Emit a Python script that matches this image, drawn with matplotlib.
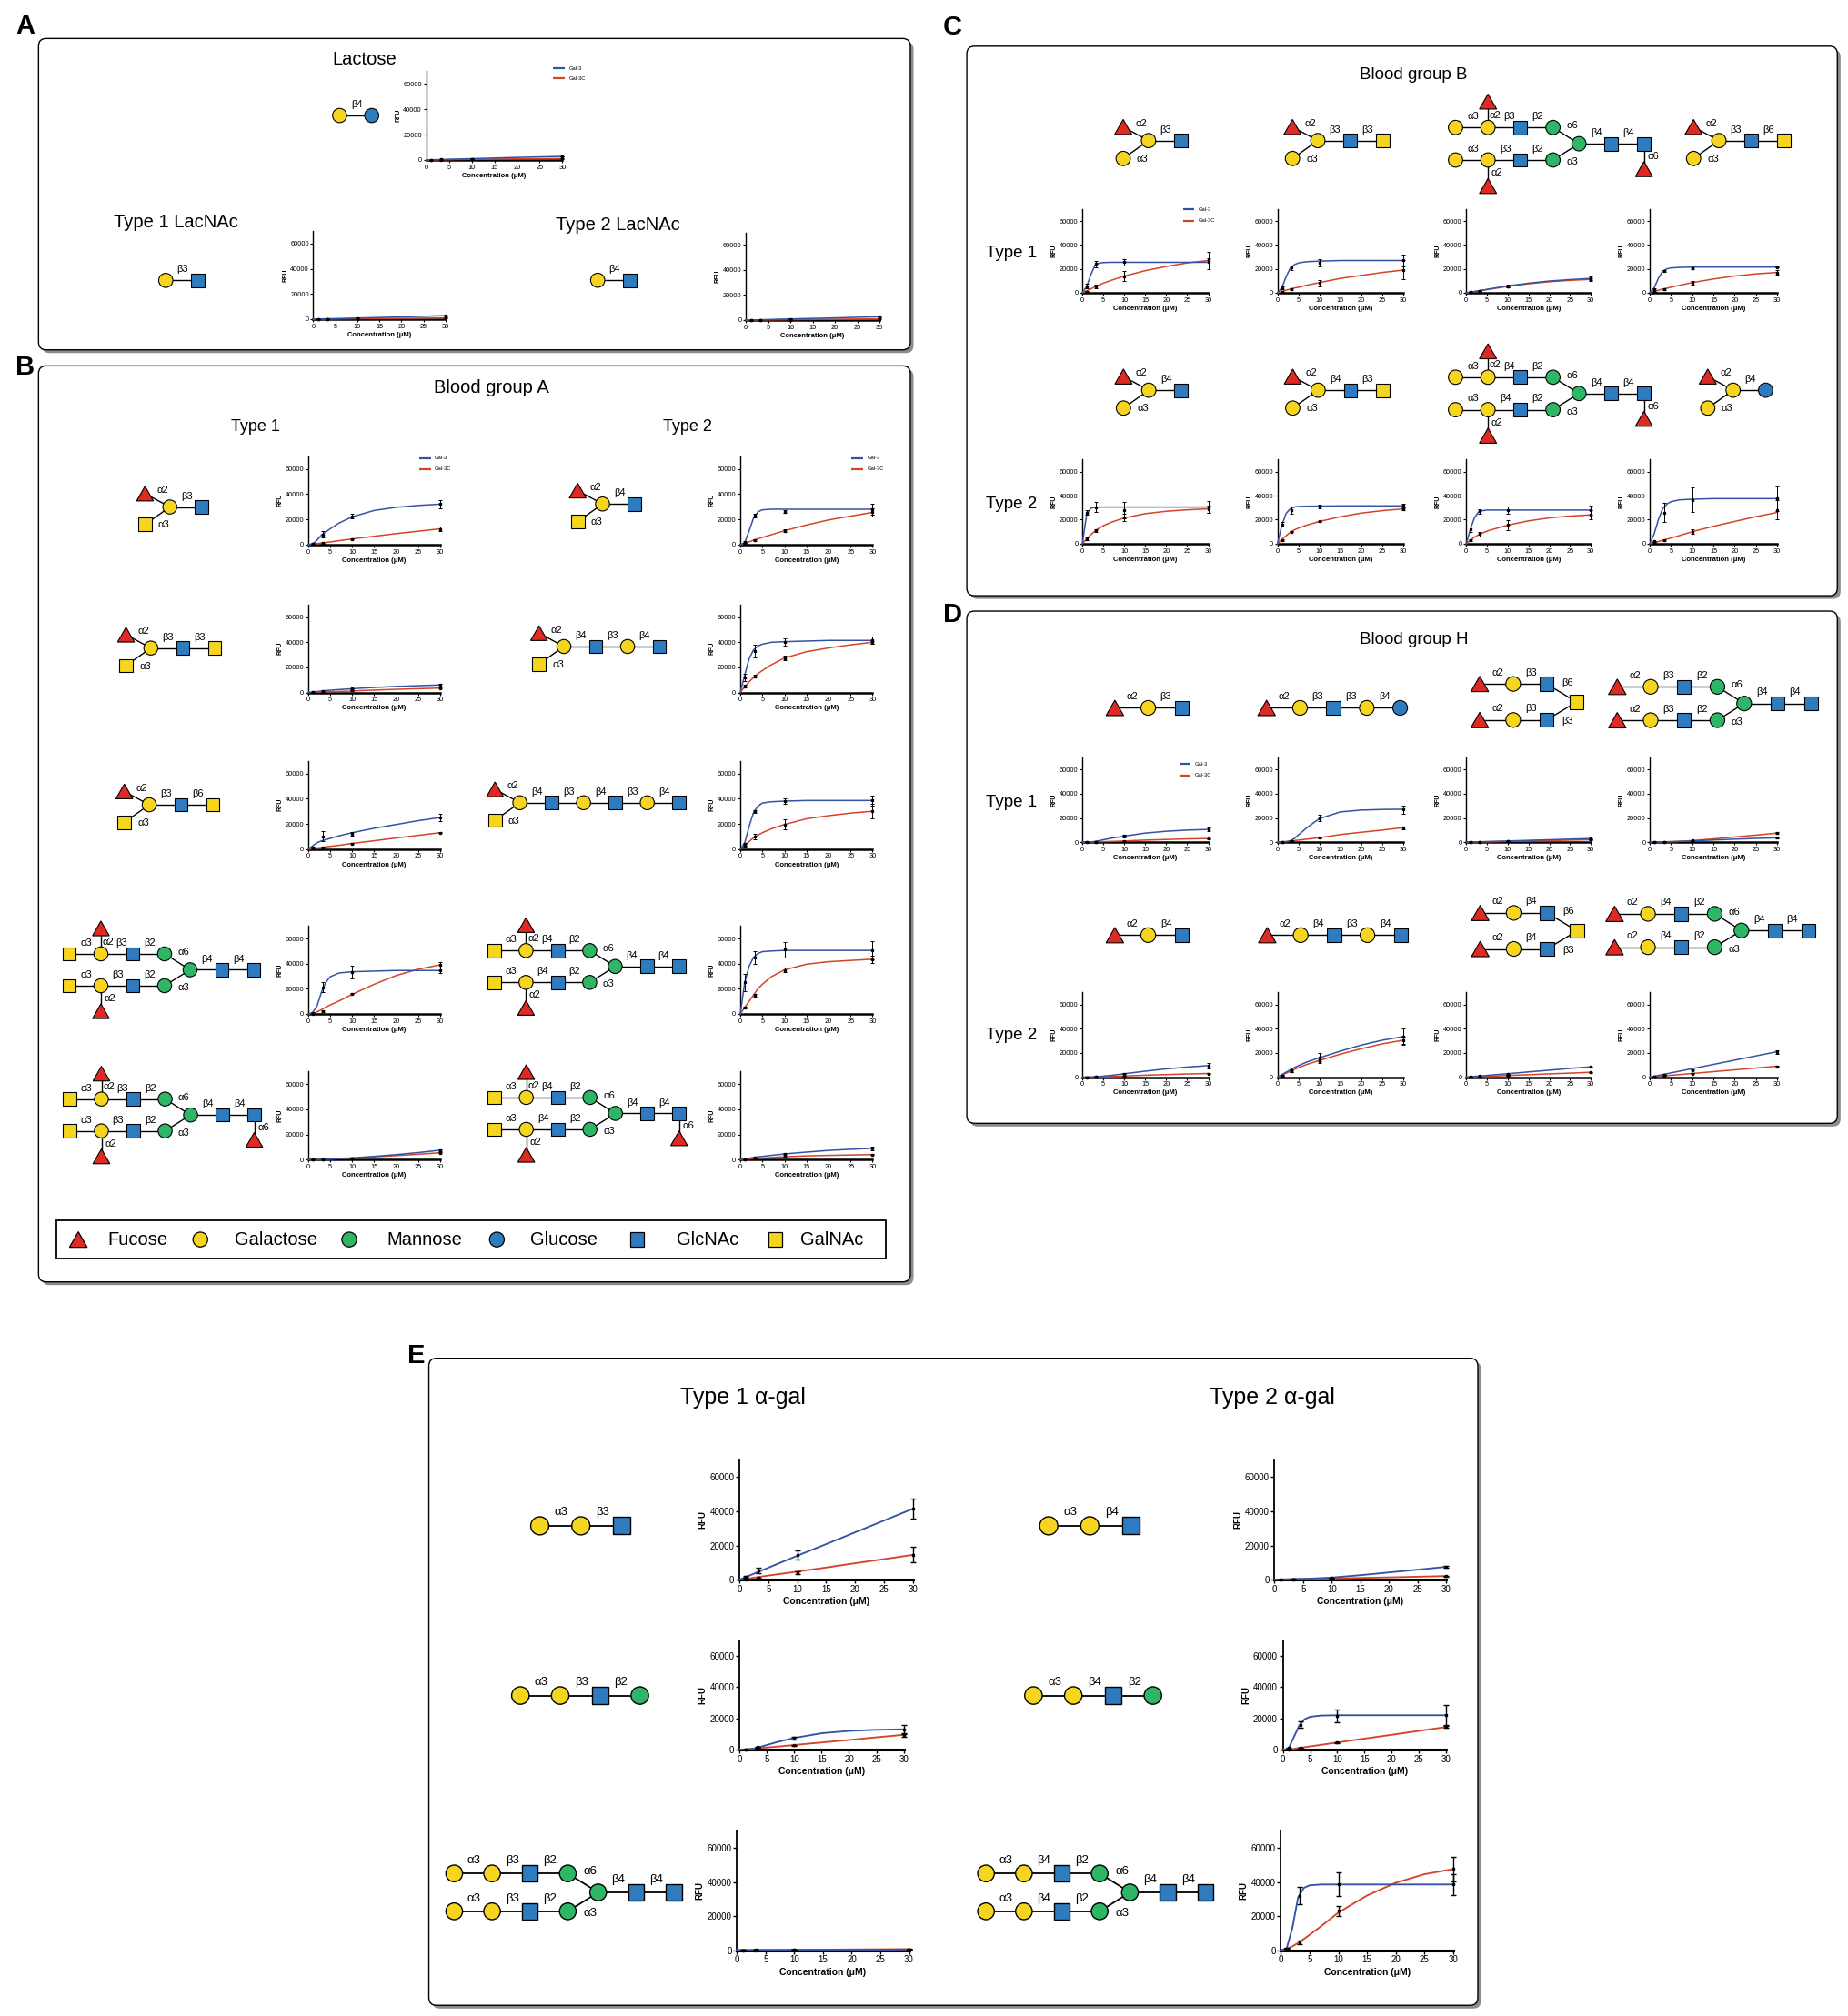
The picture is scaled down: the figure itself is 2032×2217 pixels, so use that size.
import numpy as np
import matplotlib
matplotlib.use("Agg")
import matplotlib.pyplot as plt
from matplotlib.patches import Circle, Rectangle, Polygon, FancyBboxPatch

plt.rcParams['font.family'] = ['Liberation Sans', 'DejaVu Sans']

# ------------------------------------------------------------------
# DATA  (RFU values in thousands)
# ------------------------------------------------------------------
CONC_FIT = [0, 1, 2, 3, 4, 5, 7, 10, 15, 20, 25, 30]   # fitted-curve read-out concentrations (uM)
CONC_PTS = [1.1, 3.3, 10, 30]                           # measured concentrations (uM)
SERIES = ['Gal-3', 'Gal-3C']
X_TICKS = [0, 5, 10, 15, 20, 25, 30]
Y_TICKS = [0, 20000, 40000, 60000]
LEGEND_GLYCO = ['Fucose', 'Galactose', 'Mannose', 'Glucose', 'GlcNAc', 'GalNAc']

# Panel A: Lactose, Type 1 LacNAc, Type 2 LacNAc
A_GAL3_FIT = [
    [0, 0.1, 0.2, 0.3, 0.4, 0.5, 0.7, 1.0, 1.5, 2.0, 2.4, 2.8],
    [0, 0.1, 0.2, 0.3, 0.4, 0.45, 0.6, 0.9, 1.3, 1.8, 2.3, 2.8],
    [0, 0.05, 0.1, 0.2, 0.3, 0.4, 0.6, 0.9, 1.3, 1.7, 2.2, 2.6],
]
A_GAL3C_FIT = [
    [0, 0.05, 0.1, 0.15, 0.2, 0.25, 0.35, 0.5, 0.7, 0.9, 1.0, 1.2],
    [0, 0.03, 0.06, 0.1, 0.13, 0.16, 0.23, 0.33, 0.5, 0.67, 0.83, 1.0],
    [0, 0.03, 0.06, 0.1, 0.13, 0.16, 0.23, 0.33, 0.5, 0.65, 0.8, 0.9],
]
A_GAL3_MEAN = [[0.1, 0.3, 1.0, 2.8], [0.1, 0.3, 0.9, 2.8], [0.05, 0.2, 0.9, 2.6]]
A_GAL3_SD = [[0.05, 0.1, 0.2, 0.3], [0.05, 0.1, 0.2, 0.3], [0.05, 0.1, 0.2, 0.3]]
A_GAL3C_MEAN = [[0.05, 0.15, 0.5, 1.2], [0.03, 0.1, 0.33, 1.0], [0.03, 0.1, 0.33, 0.9]]
A_GAL3C_SD = [[0.05, 0.05, 0.1, 0.2], [0.05, 0.05, 0.1, 0.2], [0.05, 0.05, 0.1, 0.2]]

# Panel B: Blood group A (row-major: Type 1, Type 2)
B_GAL3_FIT = [
    [0, 0.3, 3.5, 7.5, 10, 12.5, 17, 22, 27, 29.5, 31, 32],
    [0, 1.5, 11, 21, 26, 27.5, 28, 28, 28, 28, 28, 28],
    [0, 0.3, 0.7, 1.1, 1.5, 1.8, 2.3, 3.0, 4.0, 4.8, 5.4, 6.0],
    [0, 14, 27, 34, 37, 38.5, 40, 40.5, 41, 41.5, 41.5, 41.5],
    [0, 2.5, 5, 6.5, 7.5, 8.5, 10.5, 13, 16.5, 19.5, 22.5, 25],
    [0, 5, 18, 29, 34, 36.5, 37.5, 38, 38.5, 38.5, 38.5, 38.5],
    [0, 1, 6, 17, 25, 29.5, 32.5, 33.5, 34, 34.5, 34.5, 34.5],
    [0, 25, 38, 45, 48, 49.5, 50, 50.5, 50.5, 50.5, 50.5, 50.5],
    [0, 0, 0.1, 0.3, 0.4, 0.6, 0.9, 1.4, 2.6, 4.0, 5.6, 7.5],
    [0, 0.6, 1.2, 1.7, 2.2, 2.6, 3.4, 4.5, 6.0, 7.3, 8.2, 9.0],
]
B_GAL3C_FIT = [
    [0, 0.4, 0.8, 1.3, 1.7, 2.1, 3.1, 4.5, 6.6, 8.7, 10.6, 12.5],
    [0, 1, 2.2, 3.5, 4.6, 5.7, 7.8, 11, 15.5, 19.5, 22.5, 25.5],
    [0, 0.1, 0.2, 0.35, 0.5, 0.6, 0.8, 1.2, 1.9, 2.5, 3.0, 3.5],
    [0, 4.5, 8.5, 12, 15, 17.5, 22, 27.5, 32.5, 35.5, 38, 40],
    [0, 0.4, 0.9, 1.3, 1.7, 2.2, 3.0, 4.5, 6.6, 8.8, 10.9, 13],
    [0, 3, 6, 9, 11, 13, 16, 19.5, 24, 26.5, 28.5, 30],
    [0, 0.3, 1.5, 3.3, 5.2, 7, 10.2, 15.5, 23.5, 30.5, 35.5, 39],
    [0, 5, 10, 15, 20, 23.5, 29.5, 35, 39.5, 41.5, 42.5, 43.5],
    [0, 0.1, 0.2, 0.3, 0.4, 0.5, 0.8, 1.2, 2.2, 3.2, 4.3, 5.5],
    [0, 0.3, 0.6, 0.9, 1.1, 1.3, 1.7, 2.3, 3.0, 3.4, 3.7, 4.0],
]
B_GAL3_MEAN = [[0.5, 8, 22.5, 32], [2, 23, 26, 28], [0.3, 1, 3, 6], [12, 33, 40.5, 41.5],
               [1.5, 10, 12, 25], [4, 30, 38, 38.5], [0.5, 21, 33, 34.5], [25, 45, 51, 50.5],
               [0, 0.2, 1, 7.5], [0.3, 1.5, 4.5, 9]]
B_GAL3_SD = [[0.5, 2.5, 2, 3], [0.5, 1.5, 1, 4], [0.2, 0.5, 0.5, 1], [3, 5, 3, 3],
             [0.5, 4, 1.5, 3], [1, 1, 2, 4], [0.3, 4, 5, 2], [7, 5, 6, 7],
             [0.1, 0.2, 0.5, 1], [0.2, 0.3, 0.7, 1.5]]
B_GAL3C_MEAN = [[0.3, 1, 4.5, 12.5], [1, 3.5, 11, 25.5], [0.1, 0.5, 1.5, 3.5], [5, 13, 27.5, 40],
                [0.3, 1.5, 4.5, 13], [3, 10, 19.5, 30], [0.2, 2, 16, 39], [5, 15, 35, 43.5],
                [0, 0.3, 1.2, 5.5], [0.2, 0.8, 2.3, 4]]
B_GAL3C_SD = [[0.2, 0.3, 0.5, 1.5], [0.3, 0.5, 1, 3], [0.1, 0.2, 0.3, 0.5], [1, 1, 2, 1],
              [0.2, 0.3, 0.5, 0.5], [1, 2, 4, 6], [0.2, 0.5, 0.5, 2], [1, 1, 2, 3],
              [0.1, 0.1, 0.3, 0.5], [0.1, 0.2, 0.3, 0.5]]

# Panel C: Blood group B (Type 1 row cols 1-4, then Type 2 row cols 1-4)
C_GAL3_FIT = [
    [0, 5, 15, 23, 24.8, 25.3, 25.5, 25.5, 25.5, 25.5, 25.5, 25.5],
    [0, 4, 13, 20.5, 23.5, 25, 26, 26.5, 27, 27, 27, 27],
    [0, 0.5, 1, 1.6, 2.2, 2.8, 4, 5.7, 8, 9.8, 11, 12],
    [0, 4, 12, 18, 20, 20.8, 21.2, 21.5, 21.5, 21.5, 21.5, 21.5],
    [0, 24, 29.5, 30.3, 30.5, 30.5, 30.5, 30.5, 30.5, 30.5, 30.5, 30.5],
    [0, 15, 25, 29, 30.5, 31, 31.2, 31.3, 31.5, 31.5, 31.5, 31.5],
    [0, 12, 22, 26.5, 27.5, 28, 28, 28, 28, 28, 28, 28],
    [0, 8, 20, 29, 33, 35, 36.5, 37, 37.5, 37.5, 37.5, 37.5],
]
C_GAL3C_FIT = [
    [0, 1.6, 3.1, 5, 6.5, 8, 10.5, 14, 18.5, 22, 25, 27],
    [0, 1, 2, 3, 4, 4.5, 6.3, 8.5, 12, 14.5, 17, 19],
    [0, 0.5, 1, 1.5, 2.1, 2.6, 3.7, 5.3, 7.5, 9.2, 10.4, 11.2],
    [0, 1, 2, 3, 3.8, 4.6, 6.2, 8.5, 11.5, 14, 15.8, 17],
    [0, 4, 7.5, 10.5, 13, 15, 18, 21.5, 25, 27, 28.2, 29],
    [0, 3.5, 6.5, 9.5, 11.5, 13, 15.5, 18.5, 22.5, 25.5, 27.5, 29],
    [0, 3, 5.5, 7.5, 9, 10.5, 12.5, 15.5, 19, 21.5, 23, 24],
    [0, 0.8, 1.8, 2.8, 3.8, 4.8, 6.8, 10, 14.5, 18.5, 22.5, 26],
]
C_GAL3_MEAN = [[5.5, 24, 25.5, 26], [4, 21, 25, 27], [0.5, 1.5, 5.5, 12], [3, 18.5, 20.5, 21.5],
               [26, 30.5, 28, 30.5], [16, 28, 31, 31.5], [12, 27, 28, 28], [2, 26, 36.5, 37.5]]
C_GAL3_SD = [[2, 2.5, 2.5, 3], [1, 2, 3, 5], [0.2, 0.3, 1, 1.5], [0.5, 0.8, 0.8, 0.5],
             [2, 4, 7, 5], [2, 3, 1.5, 2], [2, 2, 3, 4], [0.5, 8, 10, 10]]
C_GAL3C_MEAN = [[1, 5, 14, 27], [0.5, 3, 8, 19], [0.4, 1.5, 5, 11], [0.5, 3, 8.5, 17],
                [4, 11, 22, 29], [3, 10, 18.5, 29], [3, 8, 15.5, 24], [0.5, 3, 10, 28]]
C_GAL3C_SD = [[0.5, 1.5, 4, 7], [0.3, 1, 2.5, 8], [0.2, 0.3, 0.8, 1.5], [0.2, 0.5, 1.5, 2],
              [1, 1, 3, 3], [0.5, 0.5, 0.5, 1], [0.5, 2, 4, 4], [0.2, 0.5, 2, 8]]

# Panel D: Blood group H (Type 1 row cols 1-4, then Type 2 row cols 1-4)
D_GAL3_FIT = [
    [0, 0, 0.2, 0.6, 1.2, 2, 3.3, 5, 7.5, 9, 10, 10.5],
    [0, 0, 0.3, 1, 3, 6, 12, 19.5, 25, 26.5, 27, 27.2],
    [0, 0.1, 0.2, 0.3, 0.4, 0.5, 0.7, 1, 1.5, 2, 2.5, 3],
    [0, 0, 0.1, 0.2, 0.3, 0.4, 0.6, 1, 1.8, 2.5, 3.1, 3.6],
    [0, 0, 0.1, 0.3, 0.5, 0.8, 1.5, 2.8, 4.9, 6.8, 8.3, 9.5],
    [0, 2, 4, 6, 7.8, 9.5, 12.5, 16, 21.5, 26.5, 30.5, 33.5],
    [0, 0.3, 0.6, 0.9, 1.1, 1.4, 2, 2.8, 4.3, 5.7, 7.2, 8.5],
    [0, 0.7, 1.4, 2.1, 2.8, 3.5, 4.9, 7, 10.5, 14, 17.5, 21],
]
D_GAL3C_FIT = [
    [0, 0.05, 0.1, 0.2, 0.3, 0.4, 0.6, 1, 1.7, 2.2, 2.7, 3],
    [0, 0.2, 0.5, 1, 1.3, 1.7, 2.5, 3.7, 6.3, 8.2, 10, 12],
    [0, 0.05, 0.1, 0.15, 0.2, 0.3, 0.4, 0.6, 1, 1.3, 1.7, 2],
    [0, 0, 0.1, 0.2, 0.3, 0.4, 0.7, 1.3, 2.7, 4.3, 5.8, 7.5],
    [0, 0, 0.05, 0.1, 0.15, 0.25, 0.5, 0.9, 1.6, 2.1, 2.6, 3],
    [0, 1.6, 3.2, 4.8, 6.4, 7.8, 10.5, 13.8, 19, 23.5, 27.5, 30.5],
    [0, 0.1, 0.3, 0.4, 0.5, 0.7, 0.9, 1.3, 2, 2.7, 3.3, 4],
    [0, 0.3, 0.6, 0.9, 1.2, 1.5, 2.1, 3, 4.5, 6, 7.5, 9],
]
D_GAL3_MEAN = [[0, 0.3, 5, 10.5], [0, 1, 20, 27], [0.1, 0.3, 1, 3], [0, 0.2, 1, 3.6],
               [0, 0.3, 3, 9.5], [1, 6, 16.5, 33.5], [0.3, 1, 2.5, 8.5], [0.5, 2, 6, 21]]
D_GAL3_SD = [[0.1, 0.2, 1, 1.5], [0.1, 0.3, 2.5, 3.5], [0.1, 0.1, 0.2, 0.3], [0.1, 0.1, 0.2, 0.3],
             [0.1, 0.2, 0.5, 2], [0.5, 2, 3.5, 7], [0.1, 0.3, 0.5, 0.5], [0.2, 0.3, 0.5, 1.5]]
D_GAL3C_MEAN = [[0, 0.2, 1, 3], [0.1, 1, 3.5, 12], [0, 0.2, 0.6, 2], [0, 0.2, 1.3, 7.5],
                [0, 0.2, 0.9, 3], [1.5, 5, 13.5, 30.5], [0.1, 0.4, 1.3, 4], [0.3, 1, 3, 9]]
D_GAL3C_SD = [[0.1, 0.1, 0.2, 0.3], [0.1, 0.3, 0.3, 1], [0.1, 0.1, 0.1, 0.2], [0.1, 0.1, 0.2, 0.5],
              [0.1, 0.1, 0.2, 0.3], [0.5, 1, 1.5, 3], [0.1, 0.1, 0.2, 0.3], [0.1, 0.2, 0.3, 0.5]]

# Panel E: alpha-gal (row-major: Type 1, Type 2)
E_GAL3_FIT = [
    [0, 1.4, 2.8, 4.2, 5.6, 7, 9.8, 14, 20.8, 27.7, 34.6, 41.5],
    [0, 0.1, 0.2, 0.3, 0.4, 0.5, 0.7, 1.2, 2.6, 4.2, 5.8, 7.5],
    [0, 0.1, 0.4, 1, 2, 3, 5, 7.5, 10.5, 12, 12.7, 13],
    [0, 0.5, 8, 15.5, 19.5, 21, 21.8, 22, 22, 22, 22, 22],
    [0, 0, 0.05, 0.1, 0.1, 0.1, 0.1, 0.15, 0.2, 0.2, 0.25, 0.3],
    [0, 1, 13, 31, 36.5, 38, 38.5, 38.5, 38.5, 38.5, 38.5, 38.5],
]
E_GAL3C_FIT = [
    [0, 0.45, 0.9, 1.4, 1.9, 2.4, 3.3, 4.7, 7.1, 9.6, 12, 14.5],
    [0, 0.05, 0.1, 0.15, 0.2, 0.3, 0.4, 0.6, 1, 1.3, 1.7, 2.1],
    [0, 0.2, 0.5, 0.8, 1.1, 1.4, 2, 3, 4.6, 6.2, 7.9, 9.5],
    [0, 0.1, 0.6, 1.1, 1.6, 2.1, 3.1, 4.6, 7.1, 9.5, 12, 14.5],
    [0, 0.02, 0.04, 0.06, 0.08, 0.1, 0.14, 0.2, 0.3, 0.4, 0.5, 0.6],
    [0, 0.7, 2.2, 4.2, 6.5, 9, 14, 22, 32, 39.5, 44.5, 47.5],
]
E_GAL3_MEAN = [[1.5, 5.5, 14.5, 41.5], [0.1, 0.3, 1, 7.5], [0.2, 1.8, 7.5, 13],
               [1, 16, 21.5, 22], [0, 0, 0.1, 0.2], [1, 32, 38.5, 38.5]]
E_GAL3_SD = [[0.5, 1.5, 2.5, 6], [0.1, 0.1, 0.2, 0.5], [0.1, 0.3, 1, 3],
             [0.3, 2, 4, 6.5], [0.05, 0.05, 0.05, 0.1], [0.3, 5, 7, 6]]
E_GAL3C_MEAN = [[0.3, 1, 4, 14.5], [0, 0.1, 0.5, 2], [0.2, 0.8, 2.8, 9.5],
                [0.2, 1.2, 4.6, 14.5], [0, 0.1, 0.2, 0.5], [0.5, 4.5, 23, 47.5]]
E_GAL3C_SD = [[0.2, 0.3, 1, 4.5], [0.05, 0.05, 0.1, 0.2], [0.1, 0.2, 0.3, 1],
              [0.1, 0.2, 0.3, 0.5], [0.05, 0.05, 0.05, 0.1], [0.2, 1, 3, 7]]

# ------------------------------------------------------------------
# FIGURE SETUP (layout in a 1440-wide reference frame)
# ------------------------------------------------------------------
W, H = 2033, 2217
S = W / 1440.0
HD = H / S
fig = plt.figure(figsize=(W / 100, H / 100), dpi=100)
base = fig.add_axes([0, 0, 1, 1])
base.set_xlim(0, 1440)
base.set_ylim(HD, 0)
base.axis('off')

BLUE = '#3553A5'
RED = '#D5442A'
SYM_COL = {'Fuc': '#DF2A24', 'Gal': '#F6D520', 'Man': '#2FB566', 'Glc': '#2E7CBF',
           'GlcNAc': '#2E7CBF', 'GalNAc': '#F6D520'}


def to_fig(x0, yt, x1, yb):
    return [x0 * S / W, 1 - yb * S / H, (x1 - x0) * S / W, (yb - yt) * S / H]


def panel_box(x0, y0, x1, y1):
    sh = FancyBboxPatch((x0 + 2.5, y0 + 2.5), x1 - x0, y1 - y0,
                        boxstyle='round,pad=0,rounding_size=6', fc='#8c8c8c', ec='none', zorder=0)
    base.add_patch(sh)
    bx = FancyBboxPatch((x0, y0), x1 - x0, y1 - y0,
                        boxstyle='round,pad=0,rounding_size=6', fc='white', ec='black', lw=1.0, zorder=0.5)
    base.add_patch(bx)


def draw_sym(s, x, y, d, lw=0.8, z=4):
    c = SYM_COL[s]
    if s in ('Gal', 'Man', 'Glc'):
        p = Circle((x, y), d * 0.5, fc=c, ec='black', lw=lw, zorder=z)
    elif s in ('GlcNAc', 'GalNAc'):
        q = d * 0.95
        p = Rectangle((x - q / 2, y - q / 2), q, q, fc=c, ec='black', lw=lw, zorder=z)
    else:
        w, h = d * 1.2, d * 1.05
        p = Polygon([(x - w / 2, y + h / 2), (x + w / 2, y + h / 2), (x, y - h / 2)],
                    closed=True, fc=c, ec='black', lw=lw, zorder=z)
    base.add_patch(p)


# ---- glycan builders (structure only) ----
def g_linear(seq, links):
    nodes = [(s, float(i), 0.0) for i, s in enumerate(seq)]
    edges = [(i, i + 1, l) for i, l in enumerate(links)]
    return nodes, edges


def g_abh(term, chain, links):
    nodes = [('Gal', 0.0, 0.0), ('Fuc', -0.78, -0.42), (term, -0.78, 0.55)]
    edges = [(0, 1, 'α2'), (0, 2, 'α3')]
    prev = 0
    for k, (s, l) in enumerate(zip(chain, links)):
        nodes.append((s, float(k + 1), 0.0))
        edges.append((prev, len(nodes) - 1, l))
        prev = len(nodes) - 1
    return nodes, edges


def g_biant(branch, links, fuc_on=None, fuc6=False, sep=1.0):
    nodes, edges, ends = [], [], []
    n = len(branch)
    for row, y in enumerate((0.0, sep)):
        b0 = len(nodes)
        for i, s in enumerate(branch):
            nodes.append((s, float(i), y))
            if i:
                edges.append((b0 + i - 1, b0 + i, links[i - 1]))
        ends.append(b0 + n - 1)
        if fuc_on is not None:
            nodes.append(('Fuc', float(fuc_on), -0.8 if row == 0 else sep + 0.8))
            edges.append((b0 + fuc_on, len(nodes) - 1, 'α2'))
    cx = n - 1 + 0.8
    nodes.append(('Man', cx, sep / 2))
    core = len(nodes) - 1
    edges.append((ends[0], core, 'α6'))
    edges.append((ends[1], core, 'α3'))
    nodes.append(('GlcNAc', cx + 1, sep / 2))
    edges.append((core, len(nodes) - 1, 'β4'))
    nodes.append(('GlcNAc', cx + 2, sep / 2))
    edges.append((len(nodes) - 2, len(nodes) - 1, 'β4'))
    if fuc6:
        last = len(nodes) - 1
        nodes.append(('Fuc', cx + 2, sep / 2 + 0.78))
        edges.append((last, len(nodes) - 1, 'α6'))
    return nodes, edges


def g_hdi(link):
    nodes = [('Fuc', 0.0, 0.0), ('Gal', 1.0, 0.0), ('GlcNAc', 2.0, 0.0),
             ('Fuc', 0.0, 1.08), ('Gal', 1.0, 1.08), ('GlcNAc', 2.0, 1.08), ('GalNAc', 2.9, 0.54)]
    edges = [(0, 1, 'α2'), (1, 2, link), (3, 4, 'α2'), (4, 5, link), (2, 6, 'β6'), (5, 6, 'β3')]
    return nodes, edges


def draw_glycan(spec, cx, cy, u, fs, lw=1.0):
    nodes, edges = spec
    xs = [n[1] for n in nodes]
    ys = [n[2] for n in nodes]
    ox = cx - (min(xs) + max(xs)) / 2 * u
    oy = cy - (min(ys) + max(ys)) / 2 * u
    P = [(ox + n[1] * u, oy + n[2] * u) for n in nodes]
    # nodes carrying a substituent drawn straight above them
    up_sub = set()
    for i, j, _ in edges:
        if abs(nodes[i][1] - nodes[j][1]) < 1e-9 and nodes[j][2] < nodes[i][2]:
            up_sub.add(i)
    for i, j, lab in edges:
        (x1, y1), (x2, y2) = P[i], P[j]
        base.plot([x1, x2], [y1, y2], color='black', lw=lw, zorder=3, solid_capstyle='butt')
        a, b = nodes[i][1:], nodes[j][1:]
        dx, dy = b[0] - a[0], b[1] - a[1]
        mx, my = (x1 + x2) / 2, (y1 + y2) / 2
        if abs(dy) < 1e-9:
            left = i if a[0] < b[0] else j
            shift = 0.16 * u if left in up_sub else 0.03 * u
            base.text(mx + shift, my - 0.34 * u, lab, ha='center', va='center', fontsize=fs, zorder=5)
        elif abs(dx) < 1e-9:
            if dy < 0:
                base.text(mx + 0.05 * u, my + 0.02 * u, lab, ha='left', va='center', fontsize=fs, zorder=5)
            else:
                base.text(mx + 0.1 * u, my, lab, ha='left', va='center', fontsize=fs, zorder=5)
        else:
            L, R = (a, b) if a[0] < b[0] else (b, a)
            up = L[1] < R[1]
            nv = np.array([abs(dy), -abs(dx) if up else abs(dx)])
            nv = nv / np.hypot(*nv)
            base.text(mx + 0.36 * u * nv[0], my + 0.36 * u * nv[1], lab, ha='center', va='center',
                      fontsize=fs, zorder=5)
    for (s, _, _), (x, y) in zip(nodes, P):
        draw_sym(s, x, y, 0.44 * u, lw=0.8 if u < 28 else 1.0)


def make_plot(rect, fb, fr, mb, sb, mr, sr, big=False, legend_at=None):
    ax = fig.add_axes(to_fig(*rect))
    ax.patch.set_alpha(0)
    lw = 1.35 if big else 1.1
    ax.plot(CONC_FIT, np.array(fr) * 1000, color=RED, lw=lw, zorder=3, clip_on=False)
    ax.plot(CONC_FIT, np.array(fb) * 1000, color=BLUE, lw=lw, zorder=4, clip_on=False)
    ekw = dict(fmt='s', color='black', ms=2.0 if big else 1.4,
               elinewidth=1.0 if big else 0.7, capsize=2.2 if big else 1.4,
               capthick=1.0 if big else 0.7, zorder=5)
    for m, e in ((mr, sr), (mb, sb)):
        cont = ax.errorbar(CONC_PTS, np.array(m) * 1000, yerr=np.array(e) * 1000, **ekw)
        for art in cont.get_children():
            art.set_clip_on(False)
    ax.set_xlim(0, 30)
    ax.set_ylim(0, 70000)
    ax.set_xticks(X_TICKS)
    ax.set_yticks(Y_TICKS)
    for sp in ('top', 'right'):
        ax.spines[sp].set_visible(False)
    ax.spines['left'].set_linewidth(1.3 if big else 1.0)
    ax.spines['bottom'].set_linewidth(2.2 if big else 1.8)
    tfs = 7 if big else 5.3
    ax.tick_params(direction='out', length=3 if big else 2.2, width=1.0 if big else 0.8,
                   labelsize=tfs, pad=1.2)
    ax.set_xlabel('Concentration (μM)', fontsize=7.5 if big else 5.5, fontweight='bold',
                  labelpad=2.5 if big else 1.5)
    ax.set_ylabel('RFU', fontsize=7 if big else 5, fontweight='bold', labelpad=2 if big else 1.5)
    if legend_at is not None:
        lx, ly, ddy = legend_at
        for k, (lab, c) in enumerate(zip(SERIES, (BLUE, RED))):
            yy = ly - k * ddy
            ax.plot([lx, lx + 0.09], [yy, yy], transform=ax.transAxes, color=c, lw=1.6,
                    clip_on=False, solid_capstyle='butt')
            ax.text(lx + 0.12, yy, lab, transform=ax.transAxes, fontsize=4.2, va='center', ha='left')
    return ax


def label(txt, x, y, fs, bold=False):
    base.text(x, y, txt, ha='center', va='center', fontsize=fs,
              fontweight='bold' if bold else 'normal', zorder=6)


# ------------------------------------------------------------------
# PANEL BOXES AND LETTERS
# ------------------------------------------------------------------
panel_box(30, 30, 709, 272.5)
panel_box(30, 285, 709, 998.5)
panel_box(753, 36, 1431, 464)
panel_box(753, 476, 1431, 875)
panel_box(334, 1058, 1151, 1562)
label('A', 19.5, 20.5, 21, True)
label('B', 19.5, 286, 21, True)
label('C', 742, 21, 21, True)
label('D', 742, 479, 21, True)
label('E', 324, 1056, 21, True)

# ------------------------------------------------------------------
# PANEL A
# ------------------------------------------------------------------
label('Lactose', 284, 46.5, 14.5)
label('Type 1 LacNAc', 137, 173.5, 14.5)
label('Type 2 LacNAc', 481, 175.3, 14.5)
A_GLYCANS = [g_linear(['Gal', 'Glc'], ['β4']), g_linear(['Gal', 'GlcNAc'], ['β3']),
             g_linear(['Gal', 'GlcNAc'], ['β4'])]
A_POS = [(277, 90), (141.6, 218.4), (478, 218.3)]
for sp, (x, y) in zip(A_GLYCANS, A_POS):
    draw_glycan(sp, x, y, 25, 8)
A_RECTS = [(332, 55.5, 438, 124.6), (244, 180, 347, 248.6), (581, 181, 685, 249.3)]
for k, r in enumerate(A_RECTS):
    make_plot(r, A_GAL3_FIT[k], A_GAL3C_FIT[k], A_GAL3_MEAN[k], A_GAL3_SD[k],
              A_GAL3C_MEAN[k], A_GAL3C_SD[k], legend_at=(0.93, 1.03, 0.11) if k == 0 else None)

# ------------------------------------------------------------------
# PANEL B
# ------------------------------------------------------------------
label('Blood group A', 382.5, 302, 14.5)
label('Type 1', 199, 332.5, 13)
label('Type 2', 535.5, 332.5, 13)
B_GLYCANS = [
    g_abh('GalNAc', ['GlcNAc'], ['β3']),
    g_abh('GalNAc', ['GlcNAc'], ['β4']),
    g_abh('GalNAc', ['GlcNAc', 'GalNAc'], ['β3', 'β3']),
    g_abh('GalNAc', ['GlcNAc', 'Gal', 'GlcNAc'], ['β4', 'β3', 'β4']),
    g_abh('GalNAc', ['GlcNAc', 'GalNAc'], ['β3', 'β6']),
    g_abh('GalNAc', ['GlcNAc', 'Gal', 'GlcNAc', 'Gal', 'GlcNAc'], ['β4', 'β3', 'β4', 'β3', 'β4']),
    g_biant(['GalNAc', 'Gal', 'GlcNAc', 'Man'], ['α3', 'β3', 'β2'], fuc_on=1),
    g_biant(['GalNAc', 'Gal', 'GlcNAc', 'Man'], ['α3', 'β4', 'β2'], fuc_on=1),
    g_biant(['GalNAc', 'Gal', 'GlcNAc', 'Man'], ['α3', 'β3', 'β2'], fuc_on=1, fuc6=True),
    g_biant(['GalNAc', 'Gal', 'GlcNAc', 'Man'], ['α3', 'β4', 'β2'], fuc_on=1, fuc6=True),
]
B_POS = [(135, 396.5), (472, 394.2), (132.6, 506.4), (466.7, 505.2), (131.3, 628.5),
         (457.2, 626.9), (125.7, 755.4), (456.8, 752.8), (126.1, 868.5), (457, 867.3)]
for sp, (x, y) in zip(B_GLYCANS, B_POS):
    draw_glycan(sp, x, y, 24.8, 8)
B_ROWS = [(355.3, 424.2), (471, 539.4), (592.6, 661.4), (721.2, 789.7), (834.6, 903.3)]
B_COLS = [(240, 342.8), (576.6, 679.6)]
for k in range(10):
    (yt, yb), (x0, x1) = B_ROWS[k // 2], B_COLS[k % 2]
    make_plot((x0, yt, x1, yb), B_GAL3_FIT[k], B_GAL3C_FIT[k], B_GAL3_MEAN[k], B_GAL3_SD[k],
              B_GAL3C_MEAN[k], B_GAL3C_SD[k], legend_at=(0.84, 0.98, 0.125) if k < 2 else None)

# legend of monosaccharide symbols
base.add_patch(Rectangle((44, 950.5), 646, 30, fc='white', ec='black', lw=1.3, zorder=1))
LEG_SYMS = ['Fuc', 'Gal', 'Man', 'Glc', 'GlcNAc', 'GalNAc']
LEG_SX = [61, 156, 272, 387, 496, 604]
LEG_TX = [84, 182.6, 301, 413, 527, 623]
for s, t, sx, tx in zip(LEG_SYMS, LEGEND_GLYCO, LEG_SX, LEG_TX):
    draw_sym(s, sx, 965.5, 11.5, lw=0.9)
    base.text(tx, 966, t, ha='left', va='center', fontsize=14.5, zorder=6)

# ------------------------------------------------------------------
# PANEL C
# ------------------------------------------------------------------
label('Blood group B', 1101, 58.3, 13.5)
label('Type 1', 788, 197, 13.5)
label('Type 2', 788, 393, 13.5)
C_GLYCANS = [
    g_abh('Gal', ['GlcNAc'], ['β3']),
    g_abh('Gal', ['GlcNAc', 'GalNAc'], ['β3', 'β3']),
    g_biant(['Gal', 'Gal', 'GlcNAc', 'Man'], ['α3', 'β3', 'β2'], fuc_on=1, fuc6=True),
    g_abh('Gal', ['GlcNAc', 'GalNAc'], ['β3', 'β6']),
    g_abh('Gal', ['GlcNAc'], ['β4']),
    g_abh('Gal', ['GlcNAc', 'GalNAc'], ['β4', 'β3']),
    g_biant(['Gal', 'Gal', 'GlcNAc', 'Man'], ['α3', 'β4', 'β2'], fuc_on=1, fuc6=True),
    g_abh('Gal', ['Glc'], ['β4']),
]
C_POS = [(897.3, 111.2), (1041.8, 111.2), (1207, 112), (1354.2, 111.2),
         (897.5, 305.6), (1042, 305.6), (1207, 306.5), (1352.6, 305.6)]
for sp, (x, y) in zip(C_GLYCANS, C_POS):
    draw_glycan(sp, x, y, 25.3, 8)
CD_COLS = [(843, 941), (995, 1093), (1142, 1239), (1285, 1384)]
C_ROWS = [(163, 228), (358, 423.5)]
for k in range(8):
    (yt, yb), (x0, x1) = C_ROWS[k // 4], CD_COLS[k % 4]
    make_plot((x0, yt, x1, yb), C_GAL3_FIT[k], C_GAL3C_FIT[k], C_GAL3_MEAN[k], C_GAL3_SD[k],
              C_GAL3C_MEAN[k], C_GAL3C_SD[k], legend_at=(0.8, 1.0, 0.14) if k == 0 else None)

# ------------------------------------------------------------------
# PANEL D
# ------------------------------------------------------------------
label('Blood group H', 1101, 498.3, 13.5)
label('Type 1', 788, 625, 13.5)
label('Type 2', 788, 806.5, 13.5)
D_GLYCANS = [
    g_linear(['Fuc', 'Gal', 'GlcNAc'], ['α2', 'β3']),
    g_linear(['Fuc', 'Gal', 'GlcNAc', 'Gal', 'Glc'], ['α2', 'β3', 'β3', 'β4']),
    g_hdi('β3'),
    g_biant(['Fuc', 'Gal', 'GlcNAc', 'Man'], ['α2', 'β3', 'β2']),
    g_linear(['Fuc', 'Gal', 'GlcNAc'], ['α2', 'β4']),
    g_linear(['Fuc', 'Gal', 'GlcNAc', 'Gal', 'GlcNAc'], ['α2', 'β4', 'β3', 'β4']),
    g_hdi('β4'),
    g_biant(['Fuc', 'Gal', 'GlcNAc', 'Man'], ['α2', 'β4', 'β2']),
]
D_POS = [(894.3, 551.4), (1038.5, 551.4), (1190.2, 546.8), (1335, 548),
         (894.3, 728.4), (1039, 728.4), (1190.6, 725.1), (1332.9, 724.8)]
for sp, (x, y) in zip(D_GLYCANS, D_POS):
    draw_glycan(sp, x, y, 26, 8)
D_ROWS = [(590, 656), (773, 839)]
for k in range(8):
    (yt, yb), (x0, x1) = D_ROWS[k // 4], CD_COLS[k % 4]
    make_plot((x0, yt, x1, yb), D_GAL3_FIT[k], D_GAL3C_FIT[k], D_GAL3_MEAN[k], D_GAL3_SD[k],
              D_GAL3C_MEAN[k], D_GAL3C_SD[k], legend_at=(0.77, 0.92, 0.13) if k == 0 else None)

# ------------------------------------------------------------------
# PANEL E
# ------------------------------------------------------------------
label('Type 1 α-gal', 579, 1089, 18)
label('Type 2 α-gal', 991, 1089, 18)
E_GLYCANS = [
    g_linear(['Gal', 'Gal', 'GlcNAc'], ['α3', 'β3']),
    g_linear(['Gal', 'Gal', 'GlcNAc'], ['α3', 'β4']),
    g_linear(['Gal', 'Gal', 'GlcNAc', 'Man'], ['α3', 'β3', 'β2']),
    g_linear(['Gal', 'Gal', 'GlcNAc', 'Man'], ['α3', 'β4', 'β2']),
    g_biant(['Gal', 'Gal', 'GlcNAc', 'Man'], ['α3', 'β3', 'β2']),
    g_biant(['Gal', 'Gal', 'GlcNAc', 'Man'], ['α3', 'β4', 'β2']),
]
E_POS = [(452.4, 1188.5), (848.8, 1188.5), (451.8, 1320.7), (851.4, 1320.7), (439.3, 1474), (853.5, 1474)]
E_UNIT = [32, 32, 31, 31, 29.5, 29.5]
for sp, (x, y), u in zip(E_GLYCANS, E_POS, E_UNIT):
    draw_glycan(sp, x, y, u, 9.5, lw=1.3)
E_RECTS = [(576, 1137.3, 711, 1230.4), (992.7, 1137.3, 1126.3, 1230.4),
           (576, 1277.5, 703.8, 1362.9), (999.2, 1277.5, 1126.3, 1362.9),
           (574, 1426, 708, 1519), (997.6, 1426, 1131.7, 1519)]
for k, r in enumerate(E_RECTS):
    make_plot(r, E_GAL3_FIT[k], E_GAL3C_FIT[k], E_GAL3_MEAN[k], E_GAL3_SD[k],
              E_GAL3C_MEAN[k], E_GAL3C_SD[k], big=True)

fig.savefig('out.png', dpi=100)
